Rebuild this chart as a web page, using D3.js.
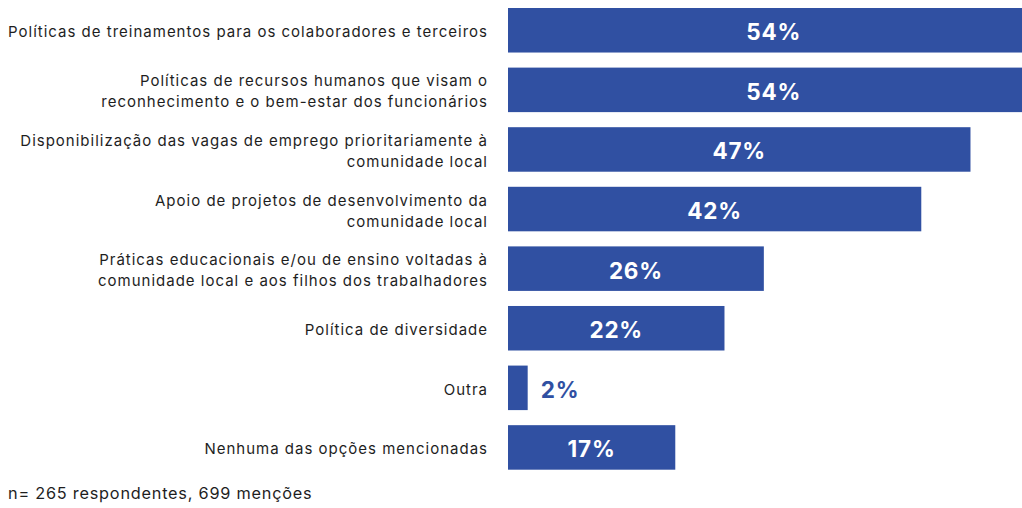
<!DOCTYPE html>
<html>
<head>
<meta charset="utf-8">
<script src="https://cdn.jsdelivr.net/npm/d3@7"></script>
<style>
  html, body { margin: 0; padding: 0; background: #fff; }
  svg { display: block; }
</style>
</head>
<body>
<svg id="chart" width="1022" height="508"></svg>
<script>
// Categories (each entry split into display lines) and their shares in percent
const categories = [
  ["Políticas de treinamentos para os colaboradores e terceiros"],
  ["Políticas de recursos humanos que visam o", "reconhecimento e o bem-estar dos funcionários"],
  ["Disponibilização das vagas de emprego prioritariamente à", "comunidade local"],
  ["Apoio de projetos de desenvolvimento da", "comunidade local"],
  ["Práticas educacionais e/ou de ensino voltadas à", "comunidade local e aos filhos dos trabalhadores"],
  ["Política de diversidade"],
  ["Outra"],
  ["Nenhuma das opções mencionadas"]
];
const values = [54, 54, 47, 42, 26, 22, 2, 17];
const footnote = "n= 265 respondentes, 699 menções";

const svg = d3.select("#chart");
const barColor = "#3050a2";
const textColor = "#1e1e1e";
const fontFamily = "Inter, 'Open Sans', sans-serif";

const x0 = 508;
const x = d3.scaleLinear().domain([0, 10]).range([x0, x0 + 98.4]);

const y = d3.scaleBand()
  .domain(d3.range(values.length))
  .range([0.5, 477.2])
  .paddingInner(0.253)
  .paddingOuter(0.126);

const rows = svg.append("g")
  .selectAll("g")
  .data(values.map((v, i) => ({ v, i, lines: categories[i] })))
  .join("g");

rows.append("rect")
  .attr("x", x(0))
  .attr("y", d => y(d.i))
  .attr("width", d => x(d.v) - x(0))
  .attr("height", y.bandwidth())
  .attr("fill", barColor);

// Category labels, right-aligned against the bars
rows.append("text")
  .attr("text-anchor", "end")
  .attr("font-family", fontFamily)
  .attr("font-size", 15)
  .attr("letter-spacing", 1.0)
  .attr("fill", textColor)
  .each(function (d) {
    const cy = y(d.i) + y.bandwidth() / 2 + 1.5;
    const lh = 21;
    const start = cy - (d.lines.length - 1) * lh / 2;
    d3.select(this).selectAll("tspan")
      .data(d.lines)
      .join("tspan")
      .attr("x", 488)
      .attr("y", (t, k) => start + k * lh)
      .attr("dominant-baseline", "central")
      .text(t => t);
  });

// Value labels: centred inside wide bars, beside narrow ones
const inside = d => x(d.v) - x(0) > 60;
rows.append("text")
  .attr("x", d => inside(d) ? (x(0) + x(d.v)) / 2 : x(d.v) + 13)
  .attr("y", d => y(d.i) + y.bandwidth() / 2 + 1.5)
  .attr("text-anchor", d => inside(d) ? "middle" : "start")
  .attr("dominant-baseline", "central")
  .attr("font-family", fontFamily)
  .attr("font-weight", 700)
  .attr("font-size", 22.5)
  .attr("letter-spacing", 0.8)
  .attr("fill", d => inside(d) ? "#ffffff" : barColor)
  .text(d => d.v + "%");

svg.append("text")
  .attr("x", 8)
  .attr("y", 499)
  .attr("font-family", fontFamily)
  .attr("font-size", 16.3)
  .attr("letter-spacing", 0.77)
  .attr("fill", textColor)
  .text(footnote);
</script>
</body>
</html>
